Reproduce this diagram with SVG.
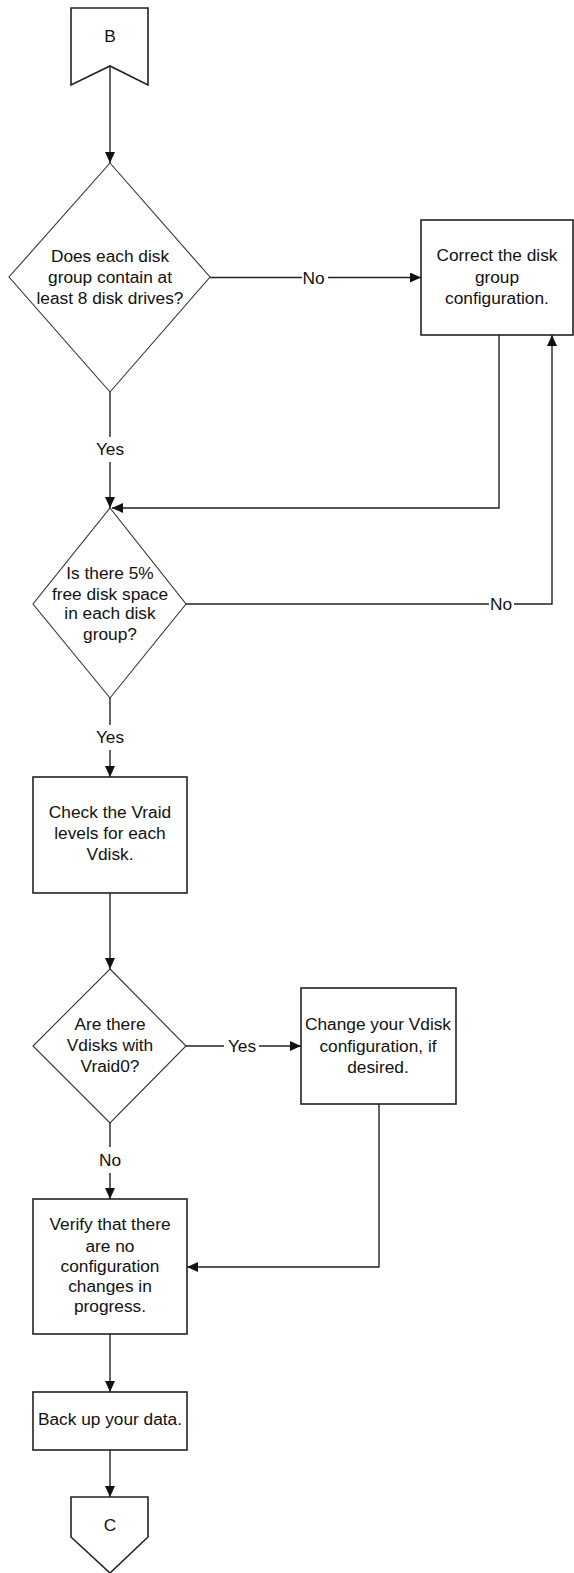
<svg xmlns="http://www.w3.org/2000/svg" width="574" height="1573" viewBox="0 0 574 1573">
<style>
.box{fill:#fff;stroke:#222;stroke-width:1.6}
.dia{fill:#fff;stroke:#333;stroke-width:1.1}
.ln{fill:none;stroke:#222;stroke-width:1.4}
text{font-family:"Liberation Sans",Arial,sans-serif;font-size:17.3px;fill:#111;text-anchor:middle}
</style>
<defs>
<marker id="ah" markerUnits="userSpaceOnUse" markerWidth="12" markerHeight="11" refX="11" refY="5" orient="auto">
<path d="M0,0 L11,5 L0,10 z" fill="#111"/>
</marker>
</defs>
<rect width="574" height="1573" fill="#fff"/>
<g id="connectors">
<line class="ln" x1="110" y1="66" x2="110" y2="163" marker-end="url(#ah)"/>
<line class="ln" x1="210" y1="277.5" x2="302" y2="277.5"/>
<line class="ln" x1="328" y1="277.5" x2="421" y2="277.5" marker-end="url(#ah)"/>
<text x="313.5" y="283.5">No</text>
<line class="ln" x1="110" y1="392" x2="110" y2="437"/>
<line class="ln" x1="110" y1="462" x2="110" y2="508" marker-end="url(#ah)"/>
<text x="110" y="455">Yes</text>
<polyline class="ln" points="499,335 499,508 112,508" marker-end="url(#ah)"/>
<line class="ln" x1="186" y1="604" x2="489" y2="604"/>
<polyline class="ln" points="514,604 552,604 552,335" marker-end="url(#ah)"/>
<text x="501" y="610">No</text>
<line class="ln" x1="110" y1="698" x2="110" y2="725"/>
<line class="ln" x1="110" y1="750" x2="110" y2="777" marker-end="url(#ah)"/>
<text x="110" y="743">Yes</text>
<line class="ln" x1="110" y1="893" x2="110" y2="969" marker-end="url(#ah)"/>
<line class="ln" x1="186" y1="1046" x2="224" y2="1046"/>
<line class="ln" x1="259" y1="1046" x2="301" y2="1046" marker-end="url(#ah)"/>
<text x="242" y="1052">Yes</text>
<line class="ln" x1="110" y1="1123" x2="110" y2="1147"/>
<line class="ln" x1="110" y1="1173" x2="110" y2="1199" marker-end="url(#ah)"/>
<text x="110" y="1166">No</text>
<polyline class="ln" points="379,1104 379,1267 187,1267" marker-end="url(#ah)"/>
<line class="ln" x1="110" y1="1334" x2="110" y2="1392" marker-end="url(#ah)"/>
<line class="ln" x1="110" y1="1450" x2="110" y2="1497" marker-end="url(#ah)"/>
</g>
<g id="nodeB">
<polygon class="box" points="71,8 148,8 148,85 110,66 71,85"/>
<text x="110" y="42">B</text>
</g>
<g id="decision1">
<polygon class="dia" points="110,163 210,277 110,392 9,277"/>
<text x="110" y="262">Does each disk</text>
<text x="110" y="283">group contain at</text>
<text x="110" y="303.5">least 8 disk drives?</text>
</g>
<g id="correct">
<rect class="box" x="421" y="220" width="152" height="115"/>
<text x="497" y="261">Correct the disk</text>
<text x="497" y="283">group</text>
<text x="497" y="303.5">configuration.</text>
</g>
<g id="decision2">
<polygon class="dia" points="110,508 186,604 110,698 33,604"/>
<text x="110" y="579">Is there 5%</text>
<text x="110" y="599.5">free disk space</text>
<text x="110" y="619">in each disk</text>
<text x="110" y="639.5">group?</text>
</g>
<g id="check">
<rect class="box" x="33" y="777" width="154" height="116"/>
<text x="110" y="818">Check the Vraid</text>
<text x="110" y="839">levels for each</text>
<text x="110" y="860">Vdisk.</text>
</g>
<g id="decision3">
<polygon class="dia" points="110,969 186,1046 110,1123 33,1046"/>
<text x="110" y="1030">Are there</text>
<text x="110" y="1051">Vdisks with</text>
<text x="110" y="1072">Vraid0?</text>
</g>
<g id="change">
<rect class="box" x="301" y="988" width="155" height="116"/>
<text x="378" y="1030">Change your Vdisk</text>
<text x="378" y="1051.5">configuration, if</text>
<text x="378" y="1072.5">desired.</text>
</g>
<g id="verify">
<rect class="box" x="33" y="1199" width="154" height="135"/>
<text x="110" y="1230">Verify that there</text>
<text x="110" y="1251.5">are no</text>
<text x="110" y="1271.5">configuration</text>
<text x="110" y="1292">changes in</text>
<text x="110" y="1312">progress.</text>
</g>
<g id="backup">
<rect class="box" x="33" y="1392" width="154" height="58"/>
<text x="110" y="1425">Back up your data.</text>
</g>
<g id="nodeC">
<polygon class="box" points="71,1497 148,1497 148,1537 110,1573 71,1537"/>
<text x="110" y="1531">C</text>
</g>
</svg>
